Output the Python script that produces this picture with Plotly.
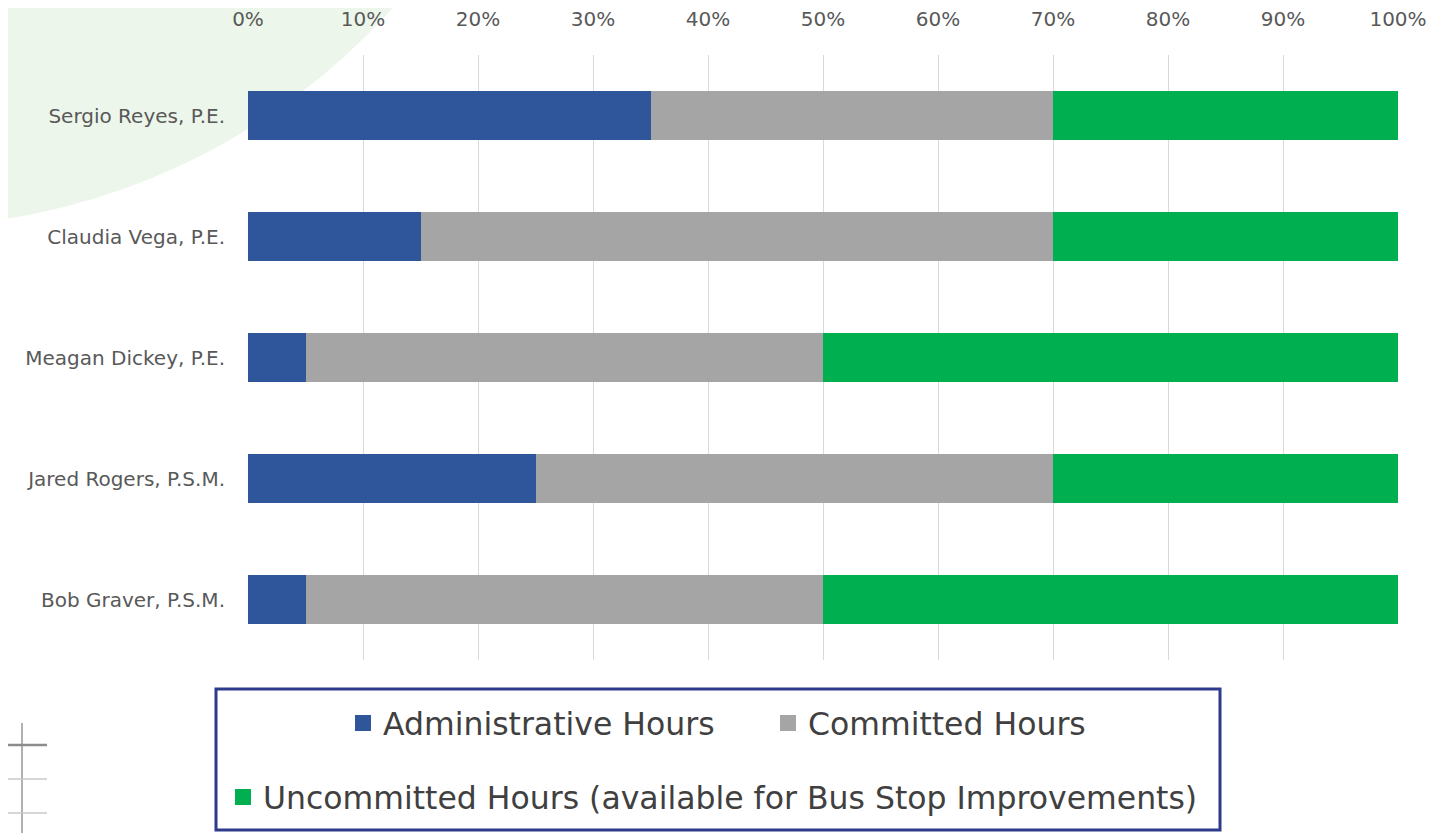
import plotly.graph_objects as go

# ---- data ----
people = ["Sergio Reyes, P.E.", "Claudia Vega, P.E.", "Meagan Dickey, P.E.",
          "Jared Rogers, P.S.M.", "Bob Graver, P.S.M."]
admin_hours = [35, 15, 5, 25, 5]
committed_hours = [35, 55, 45, 45, 45]
uncommitted_hours = [30, 30, 50, 30, 50]
series_names = ["Administrative Hours", "Committed Hours",
                "Uncommitted Hours (available for Bus Stop Improvements)"]
tick_values = [0, 10, 20, 30, 40, 50, 60, 70, 80, 90, 100]
tick_labels = [f"{v}%" for v in tick_values]

colors = ["#2F559A", "#A5A5A5", "#00B050"]
TXT = "#595959"
FONT = "DejaVu Sans"

# page has an 8px body margin, so the figure is drawn 8px in from top/left
OFF = 8
W, H = 1445 - OFF, 833 - OFF
L, T = 248 - OFF, 55 - OFF
PW, PH = 1150, 605
R, B = W - L - PW, H - T - PH


def px2x(px):
    return (px - OFF - L) / PW


def px2y(py):
    return (OFF + T + PH - py) / PH


def cx(px):
    return (px - OFF) / W


def cy(py):
    return 1 - (py - OFF) / H


fig = go.Figure()
vals = [admin_hours, committed_hours, uncommitted_hours]
legends = ["legend", "legend", "legend2"]
for name, v, c, lg in zip(series_names, vals, colors, legends):
    fig.add_trace(go.Bar(
        y=people, x=v, name=name, orientation="h",
        marker=dict(color=c, line=dict(width=0)),
        width=0.4, legendgroup=name, showlegend=False,
    ))
    # legend-only entry (larger square swatch, as in the original legend)
    fig.add_trace(go.Scatter(
        x=[None], y=[None], mode="markers", name=name, legend=lg,
        legendgroup=name, hoverinfo="skip",
        marker=dict(symbol="square", size=16, color=c),
    ))

shapes = []
# decorative pale green circle (background)
shapes.append(dict(type="circle", xref="paper", yref="paper",
                   x0=px2x(-754), x1=px2x(560), y0=px2y(227), y1=px2y(-1087),
                   fillcolor="#ECF6EA", line=dict(width=0), layer="below"))
# decorative lines bottom-left
shapes.append(dict(type="line", xref="paper", yref="paper",
                   x0=px2x(22), x1=px2x(22), y0=px2y(723), y1=px2y(840),
                   line=dict(color="#B0B0B0", width=2), layer="below"))
shapes.append(dict(type="line", xref="paper", yref="paper",
                   x0=px2x(0), x1=px2x(47), y0=px2y(745), y1=px2y(745),
                   line=dict(color="#8C8C8C", width=2.5), layer="below"))
for yy in (779, 813):
    shapes.append(dict(type="line", xref="paper", yref="paper",
                       x0=px2x(0), x1=px2x(47), y0=px2y(yy), y1=px2y(yy),
                       line=dict(color="#C8C8C8", width=1.5), layer="below"))
# legend box
shapes.append(dict(type="rect", xref="paper", yref="paper",
                   x0=px2x(216), x1=px2x(1220), y0=px2y(830), y1=px2y(689),
                   fillcolor="white", line=dict(color="#2E3A8C", width=3),
                   layer="below"))

legend_common = dict(orientation="h", xanchor="center", yanchor="middle",
                     xref="container", yref="container",
                     bgcolor="rgba(0,0,0,0)", borderwidth=0,
                     traceorder="normal", itemsizing="trace",
                     font=dict(family=FONT, size=31.5, color="#404040"),
                     itemclick=False, itemdoubleclick=False)

fig.update_layout(
    width=W, height=H,
    margin=dict(l=L, r=R, t=T, b=B),
    paper_bgcolor="white", plot_bgcolor="rgba(0,0,0,0)",
    barmode="stack", bargap=0.6,
    font=dict(family=FONT, color=TXT, size=20),
    showlegend=True,
    legend=dict(x=cx(768), y=cy(723), entrywidth=380, entrywidthmode="pixels",
                **legend_common),
    legend2=dict(x=cx(713), y=cy(797), **legend_common),
    shapes=shapes,
    xaxis=dict(side="top", range=[0, 100], tickvals=tick_values,
               ticktext=tick_labels, showgrid=True, gridcolor="#D9D9D9",
               gridwidth=1, zeroline=False, showline=False, ticks="",
               ticklabelstandoff=24, automargin=False,
               tickfont=dict(family=FONT, size=20, color=TXT), fixedrange=True),
    yaxis=dict(categoryorder="array", categoryarray=people[::-1],
               showgrid=False, zeroline=False, showline=False, ticks="",
               ticklabelstandoff=22, automargin=False,
               tickfont=dict(family=FONT, size=20, color=TXT), fixedrange=True),
)

fig.write_html("out.html")
